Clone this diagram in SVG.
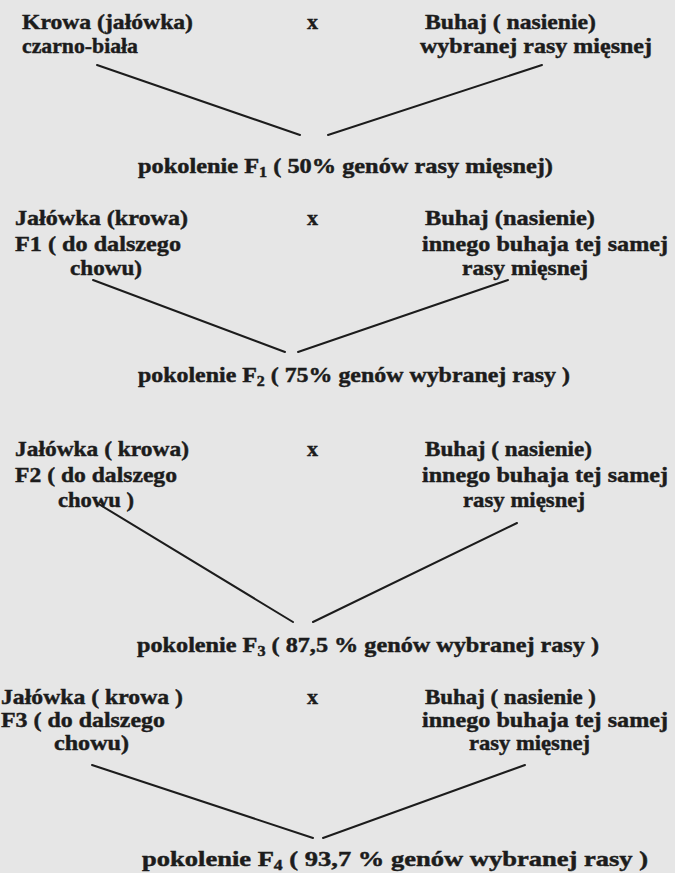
<svg xmlns="http://www.w3.org/2000/svg" width="675" height="873" viewBox="0 0 675 873">
<style>
  .t { font-family: "Liberation Serif", "Times New Roman", serif; font-weight: bold; font-size: 22px; fill: #1c1c1c; stroke: #1c1c1c; stroke-width: 0.45; }
  .p { font-size: 21px; }
  .sub { font-size: 14px; }
  .ln { stroke: #1c1c1c; stroke-width: 2; fill: none; stroke-linecap: round; }
</style>
<rect x="0" y="0" width="675" height="873" fill="#e6e6e6"/>

<g id="cow1">
  <text class="t" x="22" y="29" textLength="171" lengthAdjust="spacingAndGlyphs">Krowa (jałówka)</text>
  <text class="t" x="22" y="53" textLength="116" lengthAdjust="spacingAndGlyphs">czarno-biała</text>
</g>
<g id="x1"><text class="t" x="307" y="29">x</text></g>
<g id="bull1">
  <text class="t" x="425" y="29" textLength="171" lengthAdjust="spacingAndGlyphs">Buhaj ( nasienie)</text>
  <text class="t" x="420" y="53" textLength="232" lengthAdjust="spacingAndGlyphs">wybranej rasy mięsnej</text>
</g>
<g id="f1">
  <text class="t p" x="138" y="173" textLength="415" lengthAdjust="spacingAndGlyphs">pokolenie F<tspan class="sub" dy="4">1</tspan><tspan dy="-4">  ( 50% genów rasy mięsnej)</tspan></text>
</g>

<g id="cow2">
  <text class="t" x="15" y="225" textLength="173" lengthAdjust="spacingAndGlyphs">Jałówka (krowa)</text>
  <text class="t" x="15" y="251" textLength="166" lengthAdjust="spacingAndGlyphs">F1 ( do dalszego</text>
  <text class="t" x="70" y="275" textLength="72" lengthAdjust="spacingAndGlyphs">chowu)</text>
</g>
<g id="x2"><text class="t" x="307" y="225">x</text></g>
<g id="bull2">
  <text class="t" x="425" y="225" textLength="170" lengthAdjust="spacingAndGlyphs">Buhaj (nasienie)</text>
  <text class="t" x="422" y="251" textLength="246" lengthAdjust="spacingAndGlyphs">innego buhaja tej samej</text>
  <text class="t" x="462" y="275" textLength="126" lengthAdjust="spacingAndGlyphs">rasy mięsnej</text>
</g>
<g id="f2">
  <text class="t p" x="138" y="382" textLength="432" lengthAdjust="spacingAndGlyphs">pokolenie F<tspan class="sub" dy="4">2</tspan><tspan dy="-4">  ( 75% genów wybranej rasy )</tspan></text>
</g>

<g id="cow3">
  <text class="t" x="15" y="456" textLength="174" lengthAdjust="spacingAndGlyphs">Jałówka ( krowa)</text>
  <text class="t" x="15" y="482" textLength="162" lengthAdjust="spacingAndGlyphs">F2 ( do dalszego</text>
  <text class="t" x="58" y="507" textLength="76" lengthAdjust="spacingAndGlyphs">chowu )</text>
</g>
<g id="x3"><text class="t" x="307" y="456">x</text></g>
<g id="bull3">
  <text class="t" x="425" y="456" textLength="167" lengthAdjust="spacingAndGlyphs">Buhaj ( nasienie)</text>
  <text class="t" x="422" y="482" textLength="246" lengthAdjust="spacingAndGlyphs">innego buhaja tej samej</text>
  <text class="t" x="463" y="507" textLength="122" lengthAdjust="spacingAndGlyphs">rasy mięsnej</text>
</g>
<g id="f3">
  <text class="t p" x="137" y="652" textLength="462" lengthAdjust="spacingAndGlyphs">pokolenie F<tspan class="sub" dy="4">3</tspan><tspan dy="-4"> ( 87,5 % genów wybranej rasy )</tspan></text>
</g>

<g id="cow4">
  <text class="t" x="1" y="704" textLength="182" lengthAdjust="spacingAndGlyphs">Jałówka ( krowa )</text>
  <text class="t" x="1" y="727" textLength="164" lengthAdjust="spacingAndGlyphs">F3 ( do dalszego</text>
  <text class="t" x="54" y="750" textLength="75" lengthAdjust="spacingAndGlyphs">chowu)</text>
</g>
<g id="x4"><text class="t" x="307" y="704">x</text></g>
<g id="bull4">
  <text class="t" x="425" y="704" textLength="171" lengthAdjust="spacingAndGlyphs">Buhaj ( nasienie )</text>
  <text class="t" x="422" y="727" textLength="246" lengthAdjust="spacingAndGlyphs">innego buhaja tej samej</text>
  <text class="t" x="469" y="750" textLength="121" lengthAdjust="spacingAndGlyphs">rasy mięsnej</text>
</g>
<g id="f4">
  <text class="t p" x="142" y="866" textLength="506" lengthAdjust="spacingAndGlyphs">pokolenie  F<tspan class="sub" dy="4">4</tspan><tspan dy="-4">  ( 93,7 % genów wybranej rasy )</tspan></text>
</g>

<g id="connectors">
  <line class="ln" x1="97" y1="65" x2="300" y2="135"/>
  <line class="ln" x1="542" y1="65" x2="328" y2="135"/>
  <line class="ln" x1="93" y1="280" x2="285" y2="352"/>
  <line class="ln" x1="508" y1="280" x2="298" y2="352"/>
  <line class="ln" x1="97" y1="503" x2="293" y2="622"/>
  <line class="ln" x1="517" y1="523" x2="313" y2="622"/>
  <line class="ln" x1="92" y1="765" x2="313" y2="838"/>
  <line class="ln" x1="525" y1="765" x2="323" y2="838"/>
</g>
</svg>
